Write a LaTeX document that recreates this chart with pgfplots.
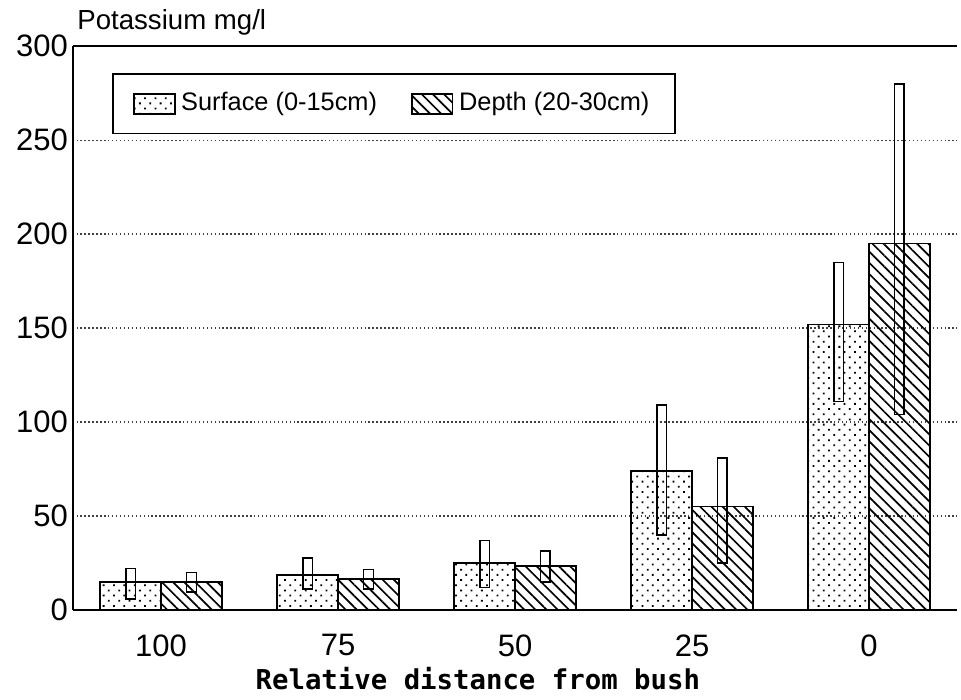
\documentclass[border=0pt]{standalone}
\usepackage{fontspec}
\setmainfont{Liberation Sans}
\newfontfamily\xlfont{DejaVu Sans Mono}
\usepackage{pgfplots}
\pgfplotsset{compat=1.18}
\usetikzlibrary{patterns.meta}

% error range drawn as a narrow open box: {left x}{right x}{low}{high}
\newcommand{\rangebox}[4]{%
  \addplot[forget plot, draw=black, line width=0.6pt, mark=none]
  coordinates {(#1,#3) (#2,#3) (#2,#4) (#1,#4)} --cycle;}

\begin{document}
\begin{tikzpicture}
\begin{axis}[
    scale only axis,
    width=314pt, height=200pt,
    xmin=-0.5, xmax=4.5,
    ymin=0, ymax=300,
    xtick={0,1,2,3,4},
    xticklabels={100,75,50,25,0},
    ytick={0,50,...,300},
    axis lines=left,
    axis line style={-, line width=0.7pt},
    tick style={draw=none},
    ymajorgrids,
    major grid style={black!75, line width=0.5pt, dash pattern=on 0.5pt off 0.9pt},
    clip=false,
    /pgf/number format/assume math mode=true,
    tick label style={font=\fontsize{11}{13}\selectfont},
    xticklabel style={yshift=-3pt},
    yticklabel style={xshift=4pt},
    xlabel={\xlfont\bfseries\fontsize{9.7}{12}\selectfont Relative distance from bush},
    xlabel style={at={(axis description cs:0.458,-0.141)}, anchor=base},
    legend image code/.code={\draw[#1, line width=0.6pt] (0pt,-3.5pt) rectangle (14.5pt,3.5pt);},
    legend style={
        at={(0.045,0.952)}, anchor=north west,
        legend columns=2,
        draw=black, line width=0.6pt,
        inner xsep=7pt, inner ysep=4.5pt,
        font=\fontsize{9}{11}\selectfont,
        /tikz/every even column/.append style={column sep=10pt}
    },
]
% --- bars ---
\addplot[ybar, bar width=0.344, bar shift=-0.172, draw=black, line width=0.6pt,
    fill=white, pattern={Dots[distance=2.6pt, angle=45, radius=0.45pt]}]
coordinates {(0,15) (1,18.5) (2,25) (3,74) (4,152)};
\addlegendentry{Surface (0-15cm)}

\addplot[ybar, bar width=0.344, bar shift=0.172, draw=black, line width=0.6pt,
    fill=white, pattern={Lines[distance=2.8pt, angle=-45, line width=0.6pt]}]
coordinates {(0,15) (1,16.5) (2,23.5) (3,55) (4,195)};
\addlegendentry{Depth (20-30cm)}

% --- ranges, surface ---
\rangebox{-0.1995}{-0.1445}{6}{22}
\rangebox{0.8005}{0.8555}{11}{27.5}
\rangebox{1.8005}{1.8555}{12}{37}
\rangebox{2.8005}{2.8555}{40}{109}
\rangebox{3.8005}{3.8555}{111}{185}
% --- ranges, depth ---
\rangebox{0.1445}{0.1995}{9.5}{20}
\rangebox{1.1445}{1.1995}{11}{21.5}
\rangebox{2.1445}{2.1995}{15}{31.5}
\rangebox{3.1445}{3.1995}{25}{81}
\rangebox{4.1445}{4.1995}{104}{280}

% top frame line (the right edge is open)
\draw[line width=0.7pt] (rel axis cs:0,1) -- (rel axis cs:1,1);
\node[anchor=base west, inner xsep=1.5pt, font=\fontsize{9.8}{11}\selectfont]
    at (axis description cs:0,1.03) {Potassium mg/l};
\path (axis description cs:-0.082,1.0795);
\path (axis description cs:1.004,-0.155);
\end{axis}
\end{tikzpicture}
\end{document}
